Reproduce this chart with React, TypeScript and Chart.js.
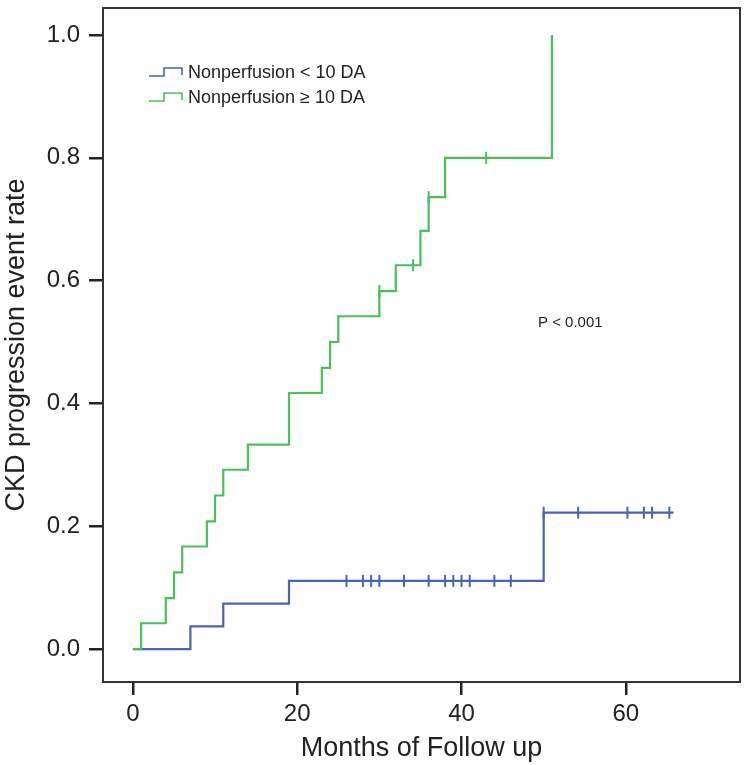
import React, { useEffect, useRef } from "react";
import { Chart, registerables } from "chart.js";

Chart.register(...registerables);

// ---- data ----
const seriesNames = ["Nonperfusion < 10 DA", "Nonperfusion \u2265 10 DA"];

const blueTimes = [0, 7, 11, 19, 50, 65.8];
const blueRates = [0, 0.037, 0.074, 0.111, 0.222, 0.222];
const blueCensorTimes = [26, 28, 29, 30, 33, 36, 38, 39, 40, 41, 44, 46, 50, 54.2, 60.2, 62.2, 63.2, 65.3];
const blueCensorRates = [0.111, 0.111, 0.111, 0.111, 0.111, 0.111, 0.111, 0.111, 0.111, 0.111, 0.111, 0.111, 0.222, 0.222, 0.222, 0.222, 0.222, 0.222];

const greenTimes = [0, 1, 4, 5, 6, 9, 10, 11, 14, 19, 23, 24, 25, 30, 32, 35, 36, 38, 51];
const greenRates = [0, 0.042, 0.083, 0.125, 0.167, 0.208, 0.25, 0.292, 0.333, 0.417, 0.458, 0.5, 0.542, 0.583, 0.625, 0.681, 0.736, 0.8, 1.0];
const greenCensorTimes = [30, 34.1, 36, 43];
const greenCensorRates = [0.583, 0.625, 0.736, 0.8];

const xTicks = [0, 20, 40, 60];
const yTicks = [0, 0.2, 0.4, 0.6, 0.8, 1.0];

const xTitle = "Months of Follow up";
const yTitle = "CKD progression event rate";
const pText = "P < 0.001";

const BLUE = "#4a63b4";
const GREEN = "#4cbf5b";
const FONT = "Arial, 'Liberation Sans', sans-serif";

const toPts = (xs: number[], ys: number[]) => xs.map((x, i) => ({ x, y: ys[i] }));

const framePlugin = {
  id: "frameAndLegend",
  afterDraw(chart: any) {
    const { ctx, chartArea } = chart;
    ctx.save();
    ctx.strokeStyle = "#333";
    ctx.lineWidth = 2;
    ctx.strokeRect(chartArea.left, chartArea.top, chartArea.right - chartArea.left, chartArea.bottom - chartArea.top);

    // legend
    const colors = [BLUE, GREEN];
    const rowsY = [72, 97];
    ctx.font = `18px ${FONT}`;
    ctx.textBaseline = "middle";
    ctx.textAlign = "left";
    for (let i = 0; i < 2; i++) {
      const y = rowsY[i];
      ctx.strokeStyle = colors[i];
      ctx.lineWidth = 1.6;
      ctx.beginPath();
      ctx.moveTo(149, y + 4);
      ctx.lineTo(164, y + 4);
      ctx.lineTo(164, y - 4);
      ctx.lineTo(182, y - 4);
      ctx.lineTo(182, y + 3);
      ctx.stroke();
      ctx.fillStyle = "#222";
      ctx.fillText(seriesNames[i], 188, y + 1);
    }
    ctx.font = `15px ${FONT}`;
    ctx.fillText(pText, 538, 323);
    ctx.restore();
  },
};

export default function App() {
  const ref = useRef<HTMLCanvasElement>(null);
  useEffect(() => {
    if (!ref.current) return;
    const chart = new Chart(ref.current, {
      type: "scatter",
      data: {
        datasets: [
          {
            label: seriesNames[1] + " censored",
            data: toPts(greenCensorTimes, greenCensorRates),
            pointStyle: "line",
            rotation: 90,
            pointRadius: 6,
            borderColor: GREEN,
            backgroundColor: GREEN,
            borderWidth: 2,
            showLine: false,
            order: 0,
          },
          {
            label: seriesNames[1],
            data: toPts(greenTimes, greenRates),
            showLine: true,
            stepped: "before",
            borderColor: GREEN,
            borderWidth: 2.2,
            pointRadius: 0,
            fill: false,
            order: 1,
          },
          {
            label: seriesNames[0] + " censored",
            data: toPts(blueCensorTimes, blueCensorRates),
            pointStyle: "line",
            rotation: 90,
            pointRadius: 6,
            borderColor: BLUE,
            backgroundColor: BLUE,
            borderWidth: 2,
            showLine: false,
            order: 2,
          },
          {
            label: seriesNames[0],
            data: toPts(blueTimes, blueRates),
            showLine: true,
            stepped: "before",
            borderColor: BLUE,
            borderWidth: 2.2,
            pointRadius: 0,
            fill: false,
            order: 3,
          },
        ],
      },
      options: {
        animation: false,
        responsive: false,
        layout: { padding: { top: 2, right: 5, left: 0, bottom: 0 } },
        plugins: { legend: { display: false }, tooltip: { enabled: false } },
        scales: {
          x: {
            type: "linear",
            min: -3.64,
            max: 73.9,
            afterBuildTicks: (s: any) => {
              s.ticks = xTicks.map((v) => ({ value: v }));
            },
            afterFit: (s: any) => {
              s.height = 83;
              s.paddingLeft = 0;
              s.paddingRight = 0;
            },
            grid: { drawOnChartArea: false, drawTicks: true, tickLength: 13, color: "#222", lineWidth: 2.5 },
            border: { display: false },
            ticks: { color: "#222", font: { size: 24, family: FONT }, padding: 5, maxRotation: 0, callback: (v: any) => String(v) },
            title: { display: true, text: xTitle, color: "#222", font: { size: 27, family: FONT }, padding: { top: 0, bottom: 0 } },
          },
          y: {
            type: "linear",
            min: -0.0537,
            max: 1.044,
            afterBuildTicks: (s: any) => {
              s.ticks = yTicks.map((v) => ({ value: v }));
            },
            afterFit: (s: any) => {
              s.width = 103;
              s.paddingTop = 0;
              s.paddingBottom = 0;
            },
            grid: { drawOnChartArea: false, drawTicks: true, tickLength: 14, color: "#222", lineWidth: 2.5 },
            border: { display: false },
            ticks: { color: "#222", font: { size: 24, family: FONT }, padding: 9, callback: (v: any) => Number(v).toFixed(1) },
            title: { display: true, text: yTitle, color: "#222", font: { size: 27, family: FONT }, padding: { top: 0, bottom: 0 } },
          },
        },
      },
      plugins: [framePlugin],
    } as any);
    return () => chart.destroy();
  }, []);
  return (
    <div style={{ position: "fixed", left: 0, top: 0, width: 748, height: 765, background: "#fff" }}>
      <canvas ref={ref} width={748} height={765} />
    </div>
  );
}
